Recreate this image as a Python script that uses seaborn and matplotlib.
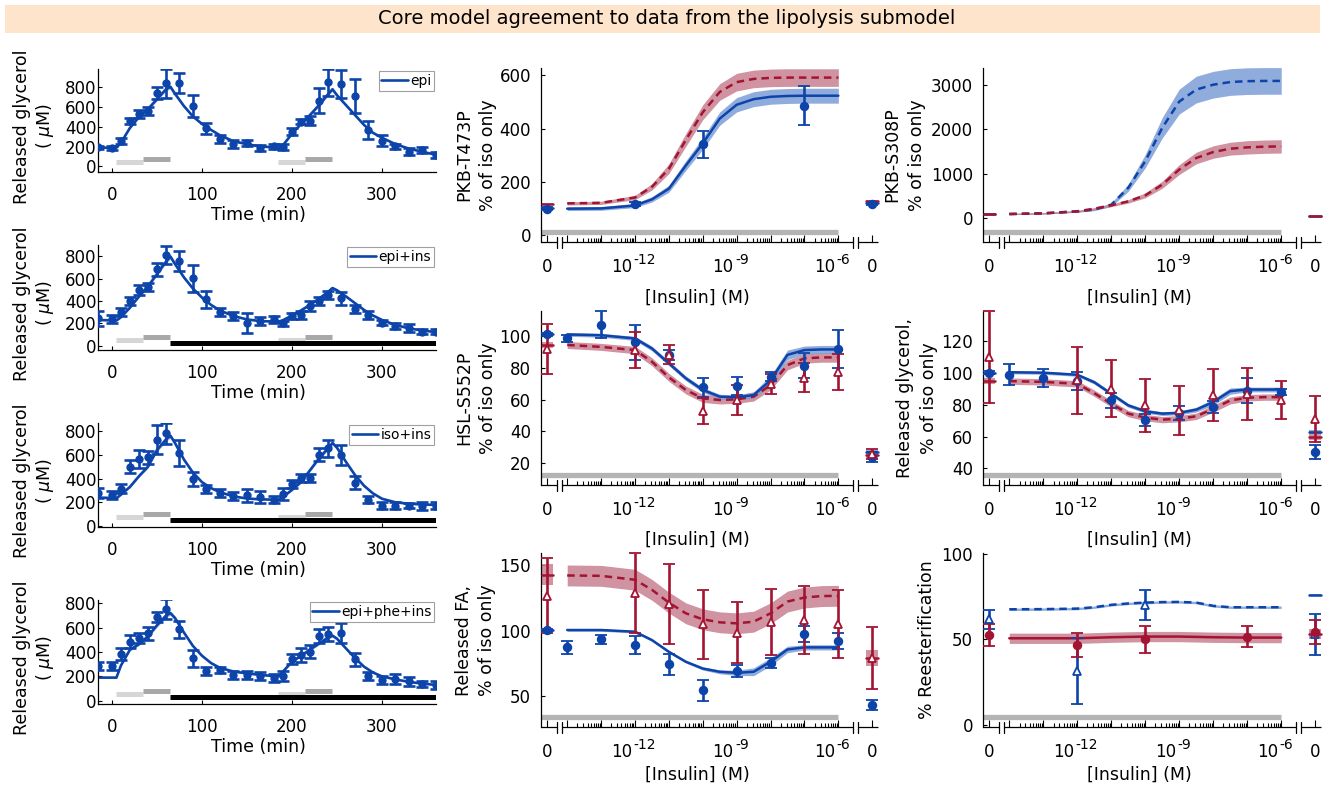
import numpy as np
import matplotlib
matplotlib.use("Agg")
import matplotlib.pyplot as plt
from matplotlib.transforms import offset_copy
from matplotlib.patches import Rectangle
import seaborn as sns

sns.set_theme(style="ticks")
plt.rcParams["font.family"] = ["DejaVu Sans"]
plt.rcParams.update({
    "mathtext.fontset": "dejavusans",
    "axes.edgecolor": "black",
    "axes.linewidth": 0.9,
    "xtick.color": "black",
    "ytick.color": "black",
    "text.color": "black",
    "axes.labelcolor": "black",
})

# ---------------------------------------------------------------- time courses
time_min = [-15, 0, 10, 20, 30, 40, 50, 60, 75, 90, 105, 120, 135, 150, 165,
            180, 190, 200, 210, 220, 230, 240, 255, 270, 285, 300, 315, 330, 345, 360]
model_time = [-15, 5, 10, 20, 30, 40, 50, 60, 65, 70, 80, 90, 100, 110, 120, 135, 150, 165,
              185, 190, 200, 210, 220, 230, 240, 245, 250, 260, 270, 280, 290, 300, 315, 330, 345, 360]

epi_mean = [195, 185, 262, 460, 527, 561, 746, 840, 840, 611, 386, 275, 225, 239, 185,
            202, 195, 353, 454, 464, 665, 850, 830, 712, 370, 262, 202, 151, 168, 118]
epi_sem = [15, 20, 30, 33, 40, 40, 60, 148, 100, 108, 54, 40, 40, 33, 27,
           27, 27, 40, 27, 50, 125, 140, 140, 168, 90, 60, 27, 33, 33, 33]
epi_model = [190, 190, 240, 390, 500, 580, 680, 780, 805, 735, 610, 505, 430, 370, 315, 255, 225, 202,
             190, 215, 330, 430, 520, 620, 730, 780, 720, 620, 520, 420, 340, 290, 225, 180, 148, 118]

epiins_mean = [244, 235, 303, 398, 497, 526, 681, 809, 758, 601, 413, 303, 265, 205, 223,
               235, 199, 265, 274, 354, 401, 452, 422, 324, 274, 205, 175, 155, 125, 125]
epiins_sem = [65, 36, 36, 36, 45, 36, 60, 83, 90, 119, 74, 36, 36, 89, 36,
              30, 24, 24, 36, 45, 36, 36, 60, 36, 36, 24, 24, 36, 24, 24]
epiins_model = [230, 225, 255, 340, 440, 530, 640, 750, 795, 730, 610, 510, 430, 365, 315, 265, 235, 220,
                215, 228, 270, 315, 365, 420, 480, 515, 495, 440, 380, 320, 270, 230, 185, 155, 135, 122]

isoins_mean = [278, 261, 316, 498, 564, 580, 729, 783, 613, 399, 311, 278, 250, 261, 242,
               223, 269, 352, 407, 407, 599, 654, 599, 366, 223, 173, 173, 173, 168, 173]
isoins_sem = [41, 33, 41, 55, 77, 55, 124, 88, 110, 60, 33, 33, 33, 55, 50,
              33, 50, 33, 33, 33, 55, 69, 82, 55, 27, 33, 33, 22, 33, 33]
isoins_model = [240, 235, 265, 330, 420, 500, 640, 730, 760, 700, 560, 450, 370, 320, 285, 250, 232, 225,
                222, 245, 305, 370, 470, 570, 655, 700, 660, 540, 430, 340, 275, 230, 200, 188, 182, 178]

epipheins_mean = [287, 287, 382, 486, 519, 554, 691, 751, 587, 349, 246, 254, 213, 213, 205,
                  186, 205, 341, 377, 404, 532, 549, 554, 341, 205, 167, 177, 158, 139, 131]
epipheins_sem = [33, 33, 49, 55, 41, 55, 41, 82, 68, 68, 33, 27, 33, 33, 33,
                 33, 41, 41, 55, 55, 55, 55, 82, 55, 33, 33, 41, 33, 27, 33]
epipheins_model = [190, 190, 290, 420, 465, 530, 620, 700, 720, 680, 560, 450, 370, 310, 270, 240, 225, 212,
                   200, 240, 320, 370, 420, 470, 520, 535, 510, 430, 350, 280, 232, 200, 175, 155, 140, 130]

time_labels = ["epi", "epi+ins", "iso+ins", "epi+phe+ins"]
stim_first = [(5, 35), (35, 65)]
stim_second = [(185, 215), (215, 245)]
insulin_period = (65, 360)

# ---------------------------------------------------------------- dose responses
dose_exp = [-14, -13, -12, -11, -10, -9, -8, -7, -6]
grid_exp = [-14, -13, -12, -11.5, -11, -10.5, -10, -9.5, -9, -8.5, -8, -7.5, -7, -6.5, -6]
nan = np.nan

# PKB-T473P
t473_blue_model = [100, 101, 112, 135, 175, 262, 345, 438, 490, 511, 520, 523, 524, 524, 524]
t473_blue_band = [7, 7, 8, 10, 13, 18, 22, 25, 27, 28, 28, 28, 28, 28, 28]
t473_red_model = [120, 122, 142, 182, 250, 358, 462, 538, 575, 587, 591, 592, 592, 592, 592]
t473_red_band = [6, 6, 8, 12, 18, 24, 28, 31, 33, 33, 33, 33, 33, 33, 33]
t473_blue = [nan, nan, 117, nan, 341, nan, nan, 487, nan]
t473_blue_err = [nan, nan, 8, nan, 49, nan, nan, 72, nan]

# PKB-S308P
s308_blue_model = [90, 105, 150, 190, 300, 680, 1280, 2030, 2620, 2890, 3000, 3060, 3080, 3085, 3085]
s308_blue_band = [15, 15, 20, 25, 40, 80, 150, 230, 280, 300, 300, 300, 300, 300, 300]
s308_red_model = [90, 105, 150, 210, 285, 375, 510, 750, 1090, 1350, 1485, 1560, 1590, 1605, 1612]
s308_red_band = [15, 15, 20, 25, 30, 40, 55, 80, 110, 130, 140, 145, 150, 150, 150]

# HSL-S552P
hsl_blue_model = [100.8, 100.3, 98.3, 92, 82.7, 73.3, 66, 61.8, 61.4, 62.8, 72, 88, 91, 91.4, 91.4]
hsl_blue_band = [1.2, 1.2, 1.3, 1.5, 1.5, 1.5, 1.5, 1.5, 1.5, 2, 3, 3, 2.5, 2.5, 2.5]
hsl_red_model = [94.2, 93, 91, 83.7, 73.9, 66, 60.7, 59.7, 60.1, 61.8, 69, 81.6, 85.8, 86.4, 86.4]
hsl_red_band = [2.2, 2.2, 2.3, 2.5, 2.5, 2.5, 2.5, 2.5, 2.5, 2.8, 3, 3, 3, 3, 3]
hsl_blue = [98.3, 107, 95.8, 88, 67.6, 68.5, 74.3, 81.2, 91.6]
hsl_blue_err = [2, 8.6, 11, 3, 6, 5.5, 3, 8, 12]
hsl_red = [nan, nan, 91, 88, 52.8, 59.7, 69.7, 73.7, 77.4]
hsl_red_err = [nan, nan, 11.3, 6, 8.4, 9.4, 6.3, 9.2, 11.2]

# Released glycerol, % of iso only
gly_blue_model = [100.6, 100.3, 99, 94.3, 87, 79.7, 76, 74.5, 75, 77, 81.8, 88.7, 89.7, 89.7, 89.7]
gly_blue_band = [1, 1, 1, 1.2, 1.2, 1.2, 1.2, 1.2, 1.2, 1.5, 2, 2, 1.5, 1.5, 1.5]
gly_red_model = [95, 94.5, 93.3, 87.4, 80.7, 74.5, 72, 70.7, 71.3, 72.8, 77.6, 82.8, 84.5, 84.9, 84.9]
gly_red_band = [2, 2, 2, 2, 2, 2, 2, 2, 2, 2, 2.2, 2.2, 2, 2, 2]
gly_blue = [99.1, 96.8, 95, 82.8, 70.7, 74.9, 78.6, 89, 88]
gly_blue_err = [6.6, 5.6, 5.5, 4.9, 3.8, 4.2, 4, 7.7, 2]
gly_red = [nan, nan, 95.4, 90.1, 79.7, 76.5, 86, 86.6, 83.2]
gly_red_err = [nan, nan, 21, 18, 16.7, 15.7, 16.4, 16.4, 11.9]

# Released FA, % of iso only
fa_blue_model = [100.5, 100.5, 99.2, 92.8, 83.8, 76.2, 71, 68.5, 67.7, 68.5, 76.2, 85.6, 87.2, 87.2, 87.2]
fa_blue_band = [1, 1, 1, 1, 1, 1, 1.2, 1.5, 2, 3, 3, 2.5, 2, 2, 2]
fa_red_model = [142.3, 142, 139, 131.3, 121.5, 113.3, 108.7, 106.4, 105.6, 106.9, 113.3, 122.3, 125.4, 126.5, 126.7]
fa_red_band = [8] * 15
fa_blue = [87.2, 93.3, 89, 74.1, 54.4, 69, 75.4, 97.4, 92]
fa_blue_err = [5, 3.5, 6.7, 8.3, 8, 4.5, 3.8, 5.8, 6]
fa_red = [nan, nan, 129, 120.5, 104.9, 98.5, 106.4, 108.2, 104.9]
fa_red_err = [nan, nan, 30.5, 30.4, 26.5, 23.3, 25.4, 26.3, 26]

# % Reesterification
re_blue_model = [67.6, 67.7, 68, 68.8, 70.2, 71, 71.5, 71.8, 71.9, 71.5, 69.6, 68.8, 68.8, 68.8, 68.8]
re_blue_band = [0.7] * 15
re_red_model = [50.7, 50.7, 50.7, 51, 51.3, 51.5, 51.7, 51.7, 51.7, 51.5, 51.3, 51.2, 51.1, 51.1, 51.1]
re_red_band = [3] * 15
re_blue = [nan, nan, 31.5, nan, 70.2, nan, nan, nan, nan]
re_blue_err = [nan, nan, 19.2, nan, 8.8, nan, nan, nan, nan]
re_red = [nan, nan, 46.8, nan, 50.1, nan, nan, 51.7, nan]
re_red_err = [nan, nan, 7, nan, 7.7, nan, nan, 6, nan]

# values at zero insulin: (side, colour, value, band half-width / error)
t473_zero_model = [("L", "b", 103, 5), ("L", "r", 117, 4), ("R", "b", 120, 4), ("R", "r", 130, 4)]
t473_zero_data = [("L", "b", 100, 5), ("R", "b", 118, 4)]
s308_zero_model = [("L", "b", 80, 20), ("L", "r", 100, 20), ("R", "b", 35, 10), ("R", "r", 40, 10)]
s308_zero_data = []
hsl_zero_model = [("L", "b", 100.8, 1), ("L", "r", 94, 2), ("R", "b", 27, 1.5), ("R", "r", 25, 2)]
hsl_zero_data = [("L", "b", 100.8, 1), ("L", "r", 91.6, 15.7), ("R", "b", 24, 3), ("R", "r", 26, 3)]
gly_zero_model = [("L", "b", 100, 1), ("L", "r", 95, 2), ("R", "b", 63, 1), ("R", "r", 60, 2)]
gly_zero_data = [("L", "b", 100.2, 1), ("L", "r", 110, 29), ("R", "b", 50.4, 4.5), ("R", "r", 71.3, 14.6)]
fa_zero_model = [("L", "b", 100.5, 1), ("L", "r", 142.8, 8), ("R", "r", 79, 6)]
fa_zero_data = [("L", "b", 100.5, 1), ("L", "r", 126.9, 28.5), ("R", "b", 43, 4), ("R", "r", 79, 24)]
re_zero_model = [("R", "b", 76, 0.7), ("R", "r", 53, 3)]
re_zero_data = [("L", "b", 61.8, 5.4), ("L", "r", 52.6, 6.6), ("R", "b", 53, 12), ("R", "r", 54.6, 7)]

# ---------------------------------------------------------------- styling
BLUE = "#0c44aa"
RED = "#a31432"
BLUE_BAND = "#7d9ed6"
RED_BAND = "#c88091"
GRAY = "#b4b4b4"
LIGHT = "#d6d6d6"
MID = "#a8a8a8"
FS_TICK = 12
FS_LAB = 12.5
W, H = 1333, 793

# broken log axis, positions in decades
X_LO, X_HI = -14.773, -4.83
ZERO_L, ZERO_R = -14.585, -5.0
BRK = [-14.292, -14.145, -5.56, -5.42]

fig = plt.figure(figsize=(W / 100, H / 100), dpi=100)


def add_ax(x0, y0, x1, y1):
    return fig.add_axes([x0 / W, 1 - y1 / H, (x1 - x0) / W, (y1 - y0) / H])


# banner title
fig.patches.append(Rectangle((5 / W, 1 - 33 / H), 1315 / W, 28 / H, transform=fig.transFigure,
                             facecolor="#fde4cb", edgecolor="none", zorder=0))
fig.text(667 / W, 1 - 19 / H, "Core model agreement to data from the lipolysis submodel",
         ha="center", va="center", fontsize=14)

# ---------------------------------------------------------------- time panels
time_sets = [
    (epi_mean, epi_sem, epi_model, False, (-56, 985), (69, 172)),
    (epiins_mean, epiins_sem, epiins_model, True, (-38, 899), (245, 350)),
    (isoins_mean, isoins_sem, isoins_model, True, (-8, 868), (423, 527)),
    (epipheins_mean, epipheins_sem, epipheins_model, True, (-27, 828), (600, 704)),
]

for (mean, sem, model, ins, ylim, (top, bot)), lab in zip(time_sets, time_labels):
    ax = add_ax(98, top, 436, bot)
    m = np.array(model, float)
    ax.fill_between(model_time, m * 0.975, m * 1.025, color=BLUE_BAND, alpha=0.7, lw=0)
    sns.lineplot(x=model_time, y=model, ax=ax, color=BLUE, lw=1.9, errorbar=None,
                 label=lab, legend=False)
    ax.errorbar(time_min, mean, yerr=sem, fmt="o", color=BLUE, ms=5, capsize=4.2,
                elinewidth=1.9, capthick=1.9, zorder=4)
    xt = ax.get_xaxis_transform()
    for (a, b), c in zip(stim_first + stim_second, [LIGHT, MID, LIGHT, MID]):
        ax.plot([a, b], [0.095 if c == LIGHT else 0.125] * 2, transform=xt, color=c,
                lw=3.6, solid_capstyle="butt")
    if ins:
        ax.plot(insulin_period, [0.065, 0.065], transform=xt, color="black", lw=3.6,
                solid_capstyle="butt")
    ax.set_xlim(-15.5, 360)
    ax.set_ylim(*ylim)
    ax.set_xticks([0, 100, 200, 300])
    ax.set_yticks([0, 200, 400, 600, 800])
    ax.tick_params(direction="in", length=3, width=0.8, labelsize=FS_TICK)
    ax.tick_params(axis="y", pad=1.2)
    ax.tick_params(axis="x", pad=10.4)
    sns.despine(ax=ax)
    leg = ax.legend(loc="upper right", bbox_to_anchor=(1.0, 1.0), fontsize=10,
                    frameon=True, fancybox=False, borderpad=0.2, handlelength=1.9,
                    handletextpad=0.15, borderaxespad=0.15)
    leg.get_frame().set_edgecolor("#888888")
    leg.get_frame().set_linewidth(0.8)
    fig.text(258 / W, 1 - (bot + 43) / H, "Time (min)", ha="center", va="center", fontsize=FS_LAB)
    yc = 1 - ((top + bot) / 2 + 6) / H
    fig.text(22 / W, yc, "Released glycerol", rotation=90, ha="center", va="center", fontsize=FS_LAB)
    fig.text(45 / W, yc, "( $\\mu$M)", rotation=90, ha="center", va="center", fontsize=FS_LAB)


# ---------------------------------------------------------------- dose panels
def draw_dose(ax, spec):
    h_px = ax.bbox.height
    xt = ax.get_xaxis_transform()
    gx = np.array(grid_exp, float)
    # gray reference bar
    ax.plot([X_LO, -6], [0.06, 0.06], transform=xt, color=GRAY, lw=3.8,
            solid_capstyle="butt", zorder=1)
    # model curves with uncertainty bands
    for col, band, y, hw, ls in spec["models"]:
        y = np.array(y, float)
        hw = np.array(hw, float)
        ax.fill_between(gx, y - hw, y + hw, color=band, alpha=0.85, lw=0, zorder=2)
        sns.lineplot(x=gx, y=y, ax=ax, color=col, lw=1.8, linestyle=ls, errorbar=None,
                     legend=False, zorder=3)
    colors = {"b": (BLUE, BLUE_BAND), "r": (RED, RED_BAND)}
    for side, c, v, hw in spec["zero_model"]:
        x = ZERO_L if side == "L" else ZERO_R
        col, band = colors[c]
        ax.add_patch(Rectangle((x - 0.17, v - hw), 0.34, 2 * hw, facecolor=band,
                               edgecolor="none", alpha=0.85, zorder=2, clip_on=False))
        ax.plot([x - 0.17, x + 0.17], [v, v], color=col, lw=1.8, zorder=3, clip_on=False)
    # measured data
    dx = np.array(dose_exp, float)
    for col, y, e, mk in spec["data"]:
        face = "white" if mk == "^" else col
        ax.errorbar(dx, y, yerr=e, fmt=mk, color=col, mfc=face, mec=col, ms=5.5 if mk == "o" else 6,
                    mew=1.3, capsize=4.2, elinewidth=1.9, capthick=1.9, zorder=5, clip_on=False)
    for side, c, v, e in spec["zero_data"]:
        x = ZERO_L if side == "L" else ZERO_R
        col = colors[c][0]
        mk = spec["markers"][c]
        face = "white" if mk == "^" else col
        ax.errorbar([x], [v], yerr=[e], fmt=mk, color=col, mfc=face, mec=col,
                    ms=5.5 if mk == "o" else 6, mew=1.3, capsize=4.2, elinewidth=1.9,
                    capthick=1.9, zorder=5, clip_on=False)
    ax.set_xlim(X_LO, X_HI)
    ax.set_ylim(*spec["ylim"])
    ax.set_yticks(spec["yticks"])
    sns.despine(ax=ax, bottom=True)
    # broken x axis line
    for a, b in [(X_LO, BRK[0]), (BRK[1], BRK[2]), (BRK[3], X_HI)]:
        ax.plot([a, b], [0, 0], transform=xt, color="black", lw=0.9, clip_on=False,
                solid_capstyle="butt")
    dy = 5.5 / h_px
    for xb in BRK:
        ax.plot([xb, xb], [-dy, dy], transform=xt, color="black", lw=0.9, clip_on=False)
    major = [ZERO_L] + list(range(-14, -5)) + [ZERO_R]
    minor = [n + np.log10(k) for n in range(-14, -6) for k in range(2, 10)]
    ax.set_xticks(major)
    ax.set_xticklabels([])
    ax.set_xticks(minor, minor=True)
    ax.tick_params(axis="x", which="major", direction="in", length=5, width=0.8)
    ax.tick_params(axis="x", which="minor", direction="in", length=3, width=0.8)
    ax.tick_params(axis="y", direction="in", length=3, width=0.8, pad=7.2, labelsize=FS_TICK)
    # tick labels: plain zeros and powers of ten with a raised exponent
    base_tr = offset_copy(xt, fig=fig, x=0, y=-30, units="dots")
    for x in (ZERO_L, ZERO_R):
        ax.text(x, 0, "0", transform=base_tr, ha="center", va="baseline", fontsize=FS_TICK)
    for e in (-12, -9, -6):
        ax.text(e, 0, "10", transform=offset_copy(xt, fig=fig, x=-3, y=-30, units="dots"),
                ha="right", va="baseline", fontsize=FS_TICK)
        ax.text(e, 0, str(e), transform=offset_copy(xt, fig=fig, x=-1.5, y=-21.6, units="dots"),
                ha="left", va="baseline", fontsize=10)


rows = [(68, 242, 56), (311, 485, 55), (553, 727, 48)]
mid_x, right_x = (541, 878), (983, 1321)

panels = [
    # middle column
    (mid_x, rows[0], dict(ylim=(-25, 628), yticks=[0, 200, 400, 600],
        models=[(RED, RED_BAND, t473_red_model, t473_red_band, (0, (3, 2))),
                (BLUE, BLUE_BAND, t473_blue_model, t473_blue_band, "-")],
        data=[(BLUE, t473_blue, t473_blue_err, "o")],
        zero_model=t473_zero_model, zero_data=t473_zero_data, markers={"b": "o", "r": "^"}),
     ["PKB-T473P", "% of iso only"], [464, 488]),
    (mid_x, rows[1], dict(ylim=(6.4, 115.5), yticks=[20, 40, 60, 80, 100],
        models=[(RED, RED_BAND, hsl_red_model, hsl_red_band, (0, (3, 2))),
                (BLUE, BLUE_BAND, hsl_blue_model, hsl_blue_band, "-")],
        data=[(BLUE, hsl_blue, hsl_blue_err, "o"), (RED, hsl_red, hsl_red_err, "^")],
        zero_model=hsl_zero_model, zero_data=hsl_zero_data, markers={"b": "o", "r": "^"}),
     ["HSL-S552P", "% of iso only"], [464, 488]),
    (mid_x, rows[2], dict(ylim=(26.2, 159.5), yticks=[50, 100, 150],
        models=[(RED, RED_BAND, fa_red_model, fa_red_band, (0, (3, 2))),
                (BLUE, BLUE_BAND, fa_blue_model, fa_blue_band, "-")],
        data=[(BLUE, fa_blue, fa_blue_err, "o"), (RED, fa_red, fa_red_err, "^")],
        zero_model=fa_zero_model, zero_data=fa_zero_data, markers={"b": "o", "r": "^"}),
     ["Released FA,", "% of iso only"], [464, 487]),
    # right column
    (right_x, rows[0], dict(ylim=(-540, 3376), yticks=[0, 1000, 2000, 3000],
        models=[(BLUE, BLUE_BAND, s308_blue_model, s308_blue_band, (0, (3, 2))),
                (RED, RED_BAND, s308_red_model, s308_red_band, (0, (3, 2)))],
        data=[], zero_model=s308_zero_model, zero_data=s308_zero_data, markers={"b": "o", "r": "^"}),
     ["PKB-S308P", "% of iso only"], [892, 917]),
    (right_x, rows[1], dict(ylim=(29.5, 139.2), yticks=[40, 60, 80, 100, 120],
        models=[(RED, RED_BAND, gly_red_model, gly_red_band, (0, (3, 2))),
                (BLUE, BLUE_BAND, gly_blue_model, gly_blue_band, "-")],
        data=[(BLUE, gly_blue, gly_blue_err, "o"), (RED, gly_red, gly_red_err, "^")],
        zero_model=gly_zero_model, zero_data=gly_zero_data, markers={"b": "o", "r": "^"}),
     ["Released glycerol,", "% of iso only"], [905, 929]),
    (right_x, rows[2], dict(ylim=(-1, 100.4), yticks=[0, 50, 100],
        models=[(RED, RED_BAND, re_red_model, re_red_band, "-"),
                (BLUE, BLUE_BAND, re_blue_model, re_blue_band, (0, (3, 2)))],
        data=[(BLUE, re_blue, re_blue_err, "^"), (RED, re_red, re_red_err, "o")],
        zero_model=re_zero_model, zero_data=re_zero_data, markers={"b": "^", "r": "o"}),
     ["% Reesterification"], [927]),
]

for (x0, x1), (top, bot, xl_off), spec, ylabels, ylx in panels:
    ax = add_ax(x0, top, x1, bot)
    draw_dose(ax, spec)
    yc = 1 - (top + bot) / 2 / H
    for s, xp in zip(ylabels, ylx):
        fig.text(xp / W, yc, s, rotation=90, ha="center", va="center", fontsize=FS_LAB)
    fig.text((x0 + 156) / W, 1 - (bot + xl_off) / H, "[Insulin] (M)", ha="center",
             va="center", fontsize=FS_LAB)

fig.savefig("out.png", dpi=100)
